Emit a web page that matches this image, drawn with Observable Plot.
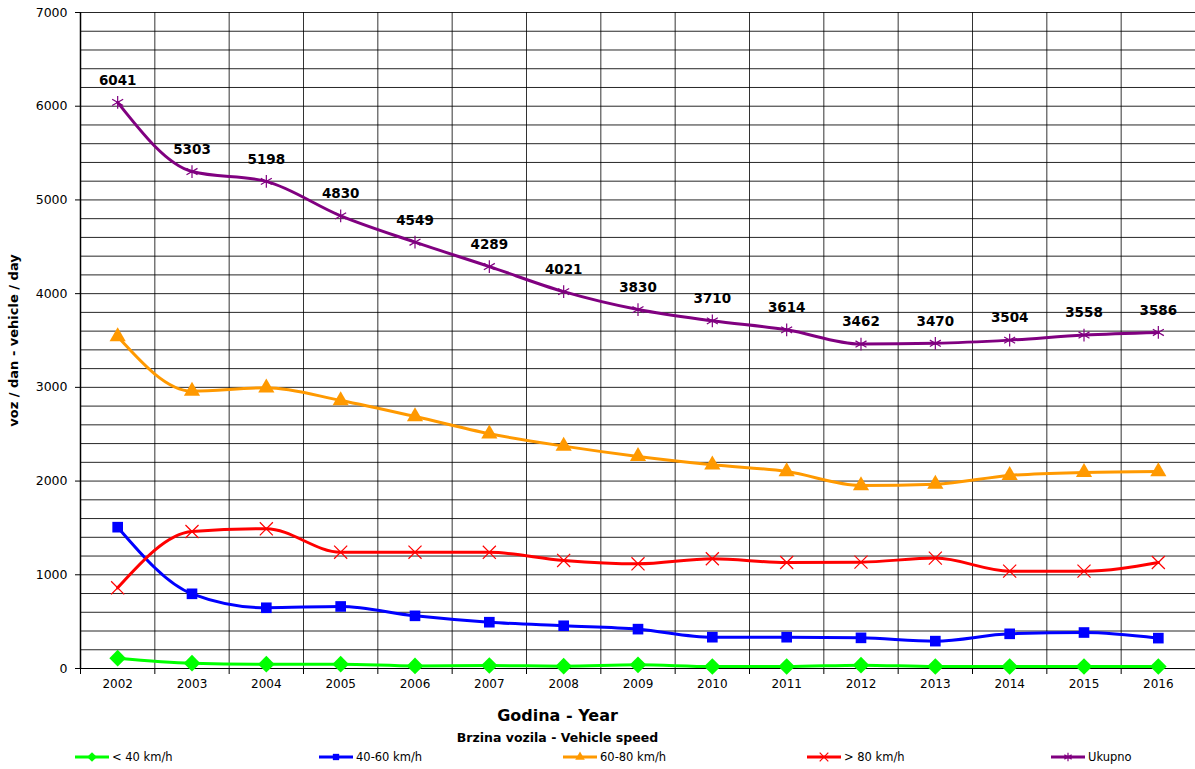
<!DOCTYPE html>
<html><head><meta charset="utf-8">
<script src="https://cdn.jsdelivr.net/npm/d3@7"></script>
<script src="https://cdn.jsdelivr.net/npm/@observablehq/plot@0.6"></script>
<style>
body{margin:0;background:#fff;font-family:"DejaVu Sans",Verdana,sans-serif;color:#000;}
#wrap{position:relative;width:1195px;height:769px;overflow:hidden;}
#chart{position:absolute;left:0;top:0;}
.cap{position:absolute;left:0;width:1195px;text-align:center;font-weight:bold;white-space:nowrap;}
.leg{position:absolute;display:flex;align-items:center;font-size:11.5px;white-space:nowrap;}
[aria-label="y-axis label"] text{font-weight:bold;font-size:13px;}
</style></head><body>
<div id="wrap"><div id="chart"></div></div>
<script>
// ---- data ----
const years = [2002,2003,2004,2005,2006,2007,2008,2009,2010,2011,2012,2013,2014,2015,2016];
const seriesNames = ["< 40 km/h","40-60 km/h","60-80 km/h","> 80 km/h","Ukupno"];
const under40  = [110,57,46,46,28,32,25,39,21,21,36,21,21,21,21];
const s40to60  = [1508,797,648,662,562,494,456,420,334,334,327,292,370,384,324];
const s60to80  = [3543,2960,2996,2860,2689,2505,2373,2263,2174,2102,1953,1967,2060,2092,2102];
const over80   = [861,1462,1491,1241,1241,1240,1153,1117,1171,1131,1135,1178,1039,1039,1131];
const total    = [6041,5303,5198,4830,4549,4289,4021,3830,3710,3614,3462,3470,3504,3558,3586];
const yTicks   = [0,1000,2000,3000,4000,5000,6000,7000];
const xTitle = "Godina - Year";
const legendTitle = "Brzina vozila - Vehicle speed";
const yTitle = "voz / dan - vehicle / day";

// ---- styles ----
const colors  = ["#00ff00","#0000ff","#ff9900","#ff0000","#800080"];
const symbols = ["diamond2","square","triangle","times","asterisk"];
const d3symbols = [d3.symbolDiamond2,d3.symbolSquare,d3.symbolTriangle,d3.symbolTimes,d3.symbolAsterisk];
const filled  = [true,true,true,false,false];

const allValues = [under40,s40to60,s60to80,over80,total];
const rows = [];
allValues.forEach((arr,si)=>arr.forEach((v,i)=>rows.push({series:seriesNames[si], si, year:years[i], value:v})));
const boundaries = years.map(y=>y-0.5).concat([years[years.length-1]+0.5]);
const xDomain = [boundaries[0], boundaries[boundaries.length-1]];

const marks = [
  Plot.gridY({ticks: d3.range(0, 7001, 200), stroke:"#000", strokeOpacity:0.85}),
  Plot.ruleX(boundaries, {stroke:"#000", strokeOpacity:0.8}),
  Plot.axisY({ticks: yTicks, tickSize:5, tickPadding:8, tickFormat:"d", fontSize:12.5,
              label: yTitle, labelAnchor:"center", labelOffset:72, labelArrow:false}),
  Plot.axisX({ticks: boundaries, tickSize:6, tickFormat:()=> "", label:null}),
  Plot.axisX({ticks: years, tickSize:0, tickPadding:11, tickFormat:"d", fontSize:12, label:null}),
  Plot.ruleY([0], {stroke:"#000", strokeWidth:1.2}),
  Plot.ruleX([xDomain[0]], {stroke:"#000", strokeWidth:1.5})
];
seriesNames.forEach((name,si)=>{
  const data = rows.filter(d=>d.si===si);
  marks.push(Plot.line(data, {x:"year", y:"value", stroke:colors[si], strokeWidth:3, curve:"monotone-x"}));
  marks.push(Plot.dot(data, {x:"year", y:"value", symbol:()=>symbols[si], r: si===0?7.5:6,
    fill: filled[si]?colors[si]:"none", stroke: colors[si], strokeWidth: filled[si]?0:1.2}));
});
marks.push(Plot.text(rows.filter(d=>d.si===4), {x:"year", y:"value", text:d=>String(d.value),
  dy:-22, fontWeight:"bold", fontSize:13.5, fill:"#000"}));

const chart = Plot.plot({
  width:1195, height:700,
  marginLeft:80, marginRight:0, marginTop:12, marginBottom:32,
  style:{fontFamily:'"DejaVu Sans",Verdana,sans-serif', fontSize:"12px", color:"#000", background:"#fff"},
  x:{type:"linear", domain:xDomain},
  y:{domain:[0,7000]},
  symbol:{type:"identity"},
  marks
});
const wrap = document.getElementById("wrap");
document.getElementById("chart").appendChild(chart);
// make sure the y label has no arrow
d3.select(chart).selectAll('[aria-label="y-axis label"] text').text(yTitle);

// captions
function cap(text, top, size){
  const d = document.createElement("div");
  d.className="cap"; d.textContent=text;
  d.style.top = top+"px"; d.style.fontSize=size+"px";
  d.style.left = "-40px";
  wrap.appendChild(d);
}
cap(xTitle, 706, 16);
cap(legendTitle, 730, 12.5);

// legend
seriesNames.forEach((name,si)=>{
  const item = document.createElement("div");
  item.className="leg";
  item.style.left = (75 + si*244)+"px";
  item.style.top = "750px";
  const svg = d3.create("svg").attr("width",36).attr("height",14);
  svg.append("line").attr("x1",0).attr("x2",34).attr("y1",7).attr("y2",7)
     .attr("stroke",colors[si]).attr("stroke-width",3);
  svg.append("path").attr("transform","translate(17,7)")
     .attr("d", d3.symbol(d3symbols[si], si===0?60:(filled[si]?40:50))())
     .attr("fill", filled[si]?colors[si]:"none").attr("stroke",colors[si]).attr("stroke-width",filled[si]?0:1.2);
  item.appendChild(svg.node());
  const t = document.createElement("span"); t.textContent=name; t.style.marginLeft="1px";
  item.appendChild(t);
  wrap.appendChild(item);
});
</script>
</body></html>
